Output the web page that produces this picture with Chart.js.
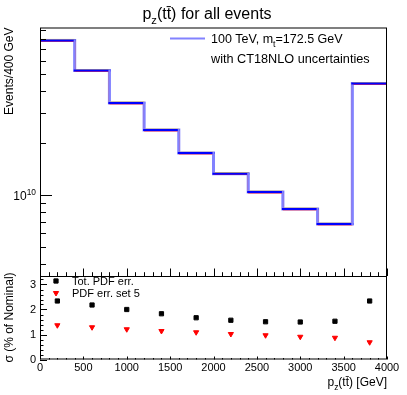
<!DOCTYPE html>
<html><head><meta charset="utf-8">
<script src="https://cdn.jsdelivr.net/npm/chart.js@4"></script>
<style>
html,body{margin:0;padding:0;background:#fff;}
#wrap{position:relative;width:407px;height:395px;overflow:hidden;}
#c1{position:absolute;left:0;top:0;}
#c2{position:absolute;left:0;top:255px;}
</style></head><body>
<div id="wrap"><canvas id="c1" width="407" height="277"></canvas><canvas id="c2" width="407" height="140"></canvas></div>
<script>
// ---- data ----
const binEdges = [0, 400, 800, 1200, 1600, 2000, 2400, 2800, 3200, 3600, 4000];
const nominalEvents = [7.85e10, 5.26e10, 3.41e10, 2.38e10, 1.75e10, 1.33e10, 1.04e10, 8.30e9, 6.79e9, 4.42e10];
const upperEvents   = [7.96e10, 5.33e10, 3.46e10, 2.41e10, 1.77e10, 1.35e10, 1.055e10, 8.41e9, 6.88e9, 4.48e10];
const lowerEvents   = [7.76e10, 5.20e10, 3.37e10, 2.35e10, 1.73e10, 1.315e10, 1.028e10, 8.21e9, 6.72e9, 4.37e10];
const binCenters = [200, 600, 1000, 1400, 1800, 2200, 2600, 3000, 3400, 3800];
const totPdfErr  = [2.34, 2.18, 2.00, 1.83, 1.67, 1.57, 1.51, 1.50, 1.53, 2.34];
const pdfSet5Err = [1.37, 1.29, 1.21, 1.14, 1.09, 1.02, 0.97, 0.91, 0.87, 0.69];
const xTickValues = [0, 500, 1000, 1500, 2000, 2500, 3000, 3500, 4000];
const ratioTickValues = [0, 1, 2, 3];
const logMajorTicks = [1e10];
const logMinorTicks = [4e9, 5e9, 6e9, 7e9, 8e9, 9e9, 2e10, 3e10, 4e10, 5e10, 6e10, 7e10, 8e10, 9e10];

const FONT = '"Liberation Sans", Arial, Helvetica, sans-serif';
const LAV = 'rgb(130,130,255)';

function stepPoints(vals) {
  const pts = [];
  for (let i = 0; i < vals.length; i++) {
    pts.push({x: binEdges[i], y: vals[i]});
    pts.push({x: binEdges[i + 1], y: vals[i]});
  }
  return pts;
}

function richWidth(ctx, parts, size) {
  let w = 0;
  parts.forEach(p => {
    const s = (p.sub || p.sup) ? size * 0.7 : size;
    ctx.font = s + 'px ' + FONT;
    w += ctx.measureText(p.t).width;
  });
  return w;
}
function richText(ctx, parts, x, y, align, size) {
  const w = richWidth(ctx, parts, size);
  let cx = align === 'right' ? x - w : (align === 'center' ? x - w / 2 : x);
  ctx.textAlign = 'left';
  ctx.textBaseline = 'alphabetic';
  parts.forEach(p => {
    const s = (p.sub || p.sup) ? size * 0.7 : size;
    ctx.font = s + 'px ' + FONT;
    let dy = 0;
    if (p.sub) dy = size * 0.3;
    if (p.sup) dy = -size * 0.45;
    ctx.fillText(p.t, cx, y + dy);
    cx += ctx.measureText(p.t).width;
  });
}

const topPlugin = {
  id: 'topDecor',
  afterDraw(chart) {
    const ctx = chart.ctx, a = chart.chartArea;
    const xs = chart.scales.x, ys = chart.scales.y;
    ctx.save();
    ctx.strokeStyle = '#000';
    ctx.fillStyle = '#000';
    ctx.lineWidth = 1;
    ctx.strokeRect(a.left + 0.5, a.top + 0.5, a.right - a.left - 1, a.bottom - a.top);
    ctx.beginPath();
    for (let v = 0; v <= 4000; v += 100) {
      const px = Math.round(xs.getPixelForValue(v)) + 0.5;
      const len = (v % 500 === 0) ? 7.5 : 3.8;
      ctx.moveTo(px, a.bottom);
      ctx.lineTo(px, a.bottom - len);
    }
    logMajorTicks.forEach(v => {
      const py = Math.round(ys.getPixelForValue(v)) + 0.5;
      ctx.moveTo(a.left, py); ctx.lineTo(a.left + 12, py);
    });
    logMinorTicks.forEach(v => {
      const py = Math.round(ys.getPixelForValue(v)) + 0.5;
      ctx.moveTo(a.left, py); ctx.lineTo(a.left + 6, py);
    });
    ctx.stroke();
    const py = ys.getPixelForValue(1e10);
    richText(ctx, [{t: '10'}, {t: '10', sup: true}], a.left - 4, py + 5, 'right', 12);
    richText(ctx, [{t: 'p'}, {t: 'z', sub: true}, {t: '(tt\u0304) for all events'}], 207, 19, 'center', 16);
    ctx.save();
    ctx.translate(12.5, a.top);
    ctx.rotate(-Math.PI / 2);
    ctx.font = '12px ' + FONT;
    ctx.textAlign = 'right';
    ctx.textBaseline = 'alphabetic';
    ctx.fillText('Events/400 GeV', 0, 0);
    ctx.restore();
    ctx.strokeStyle = LAV;
    ctx.lineWidth = 2;
    ctx.beginPath();
    ctx.moveTo(170, 38.5); ctx.lineTo(205, 38.5);
    ctx.stroke();
    ctx.fillStyle = '#000';
    richText(ctx, [{t: '100 TeV, m'}, {t: 't', sub: true}, {t: '=172.5 GeV'}], 211, 43, 'left', 12.5);
    richText(ctx, [{t: 'with CT18NLO uncertainties'}], 211, 63, 'left', 12.7);
    ctx.restore();
  }
};

const bottomPlugin = {
  id: 'botDecor',
  afterDraw(chart) {
    const ctx = chart.ctx, a = chart.chartArea;
    const xs = chart.scales.x, ys = chart.scales.y;
    ctx.save();
    ctx.strokeStyle = '#000';
    ctx.fillStyle = '#000';
    ctx.lineWidth = 1;
    ctx.strokeRect(a.left + 0.5, a.top + 0.5, a.right - a.left - 1, a.bottom - a.top - 1);
    ctx.beginPath();
    for (let v = 0; v <= 4000; v += 100) {
      const px = Math.round(xs.getPixelForValue(v)) + 0.5;
      const len = (v % 500 === 0) ? 3 : 1.5;
      ctx.moveTo(px, a.bottom);
      ctx.lineTo(px, a.bottom - len);
    }
    for (let k = 0; k <= 16; k++) {
      const py = Math.round(ys.getPixelForValue(k / 5)) + 0.5;
      const len = (k % 5 === 0) ? 7 : 3.5;
      ctx.moveTo(a.left, py); ctx.lineTo(a.left + len, py);
    }
    ctx.stroke();
    ctx.save();
    ctx.translate(12.5, a.top + 41.5);
    ctx.rotate(-Math.PI / 2);
    ctx.font = '12px ' + FONT;
    ctx.textAlign = 'center';
    ctx.textBaseline = 'alphabetic';
    ctx.fillText('\u03C3 (% of Nominal)', 0, 0);
    ctx.restore();
    ctx.fillStyle = '#000';
    richText(ctx, [{t: 'p'}, {t: 'z', sub: true}, {t: '(tt\u0304) [GeV]'}], a.right, a.bottom + 26.5, 'right', 12);
    ctx.fillStyle = '#000'; ctx.strokeStyle = '#000';
    Chart.helpers.drawPoint(ctx, {pointStyle: 'rect', radius: 3, rotation: 0, borderWidth: 1}, 56, a.top + 5);
    ctx.fillStyle = '#f00'; ctx.strokeStyle = '#f00';
    Chart.helpers.drawPoint(ctx, {pointStyle: 'triangle', radius: 3, rotation: 180, borderWidth: 1}, 56, a.top + 17);
    ctx.fillStyle = '#000';
    richText(ctx, [{t: 'Tot. PDF err.'}], 72, a.top + 9, 'left', 11);
    richText(ctx, [{t: 'PDF err. set 5'}], 72, a.top + 21, 'left', 11);
    ctx.restore();
  }
};

new Chart(document.getElementById('c1'), {
  type: 'line',
  data: {
    datasets: [
      {data: stepPoints(nominalEvents), borderWidth: 2,
       segment: {borderColor: c => (c.p0DataIndex % 2 === 1) ? LAV : '#0000ff'},
       borderColor: '#0000ff'},
      {data: stepPoints(lowerEvents), borderWidth: 1, borderColor: '#ff3030'},
      {data: stepPoints(upperEvents), borderWidth: 1, borderColor: '#d8c070'},
      {data: stepPoints(nominalEvents), borderWidth: 3, borderColor: LAV}
    ]
  },
  options: {
    responsive: false, animation: false, devicePixelRatio: 1,
    layout: {padding: {left: 40, right: 20, top: 27.5, bottom: 1}},
    elements: {point: {radius: 0}, line: {tension: 0, fill: false, borderCapStyle: 'square'}},
    plugins: {legend: {display: false}, tooltip: {enabled: false}},
    scales: {
      x: {type: 'linear', min: 0, max: 4000, display: false},
      y: {type: 'logarithmic', min: 3.4e9, max: 9.33e10, display: false}
    }
  },
  plugins: [topPlugin]
});

new Chart(document.getElementById('c2'), {
  type: 'scatter',
  data: {
    datasets: [
      {data: binCenters.map((x, i) => ({x, y: totPdfErr[i]})), pointStyle: 'rect', radius: 3,
       backgroundColor: '#000', borderColor: '#000', borderWidth: 1},
      {data: binCenters.map((x, i) => ({x, y: pdfSet5Err[i]})), pointStyle: 'triangle', rotation: 180, radius: 3,
       backgroundColor: '#f00', borderColor: '#f00', borderWidth: 1}
    ]
  },
  options: {
    responsive: false, animation: false, devicePixelRatio: 1,
    layout: {padding: {left: 0, right: 20, top: 21, bottom: 0}, autoPadding: false},
    plugins: {legend: {display: false}, tooltip: {enabled: false}},
    scales: {
      x: {type: 'linear', min: 0, max: 4000,
          afterBuildTicks: s => { s.ticks = xTickValues.map(v => ({value: v})); },
          afterFit: s => { s.height = 35.5; s.paddingLeft = 0; s.paddingRight = 0; },
          grid: {display: false, drawTicks: false}, border: {display: false},
          ticks: {font: {family: FONT, size: 11}, color: '#000', padding: 2, maxRotation: 0, autoSkip: false,
                  callback: v => String(v)}},
      y: {type: 'linear', min: 0, max: 3.34,
          afterBuildTicks: s => { s.ticks = ratioTickValues.map(v => ({value: v})); },
          afterFit: s => { s.width = 40; s.paddingTop = 0; s.paddingBottom = 0; },
          grid: {display: false, drawTicks: false}, border: {display: false},
          ticks: {font: {family: FONT, size: 11}, color: '#000', padding: 4, callback: v => String(v)}}
    }
  },
  plugins: [bottomPlugin]
});
</script>
</body></html>
